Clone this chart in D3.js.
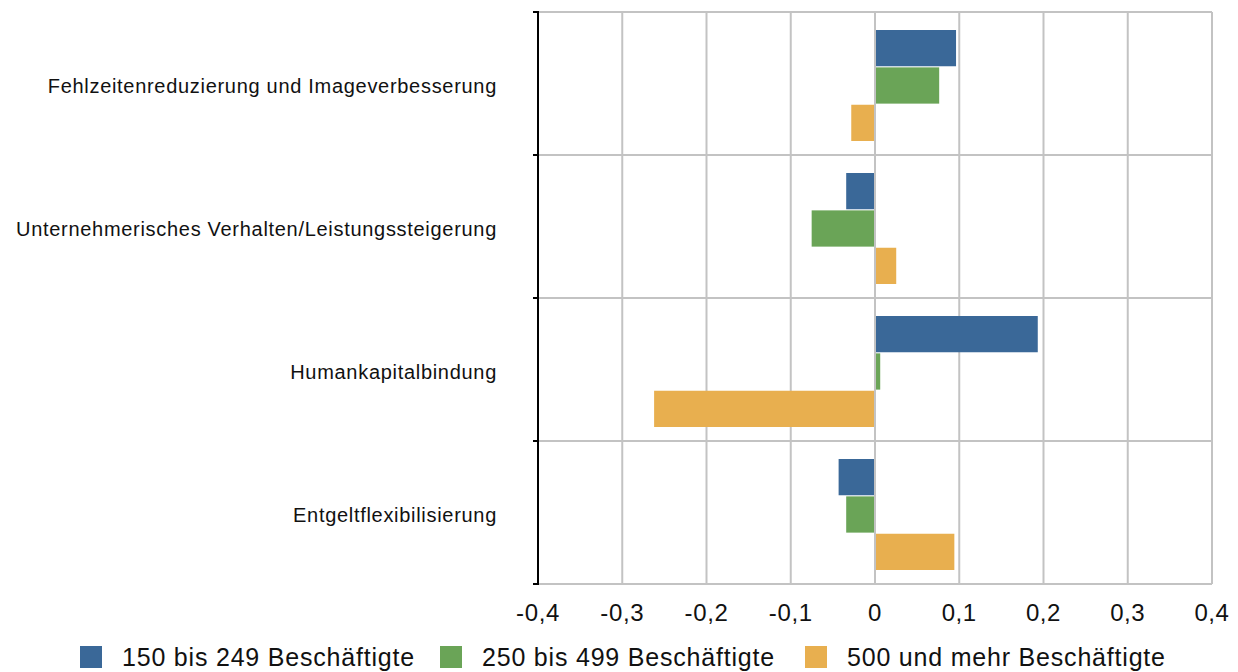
<!DOCTYPE html>
<html><head><meta charset="utf-8">
<script src="https://cdn.jsdelivr.net/npm/d3@7"></script>
<style>body{margin:0;background:#fff}svg{display:block}text{font-family:"Liberation Sans",Arial,Helvetica,sans-serif;fill:#111}</style>
</head><body><svg id="c" width="1238" height="672"></svg>
<script>
const categories = ["Fehlzeitenreduzierung und Imageverbesserung","Unternehmerisches Verhalten/Leistungssteigerung","Humankapitalbindung","Entgeltflexibilisierung"];
const seriesNames = ["150 bis 249 Beschäftigte","250 bis 499 Beschäftigte","500 und mehr Beschäftigte"];
const s150 = [0.095, -0.033, 0.192, -0.042];
const s250 = [0.075, -0.074, 0.005, -0.033];
const s500 = [-0.027, 0.024, -0.261, 0.093];
const tickValues = [-0.4,-0.3,-0.2,-0.1,0,0.1,0.2,0.3,0.4];
const tickLabels = ["-0,4","-0,3","-0,2","-0,1","0","0,1","0,2","0,3","0,4"];
const colors = ["#3a6898","#6aa457","#e8af4f"];
const series = [s150, s250, s500];

const svg = d3.select("#c");
const x = d3.scaleLinear().domain([-0.4,0.4]).range([538,1212]);
const y0 = d3.scaleBand().domain(categories).range([12,584]);
const y1 = d3.scaleBand().domain(seriesNames).range([18,129]).paddingInner(0.03);

// grid
const g = svg.append("g");
g.selectAll("line.v").data(tickValues.slice(1)).join("line")
 .attr("x1",d=>x(d)).attr("x2",d=>x(d)).attr("y1",12).attr("y2",584)
 .attr("stroke","#c3c3c3").attr("stroke-width",2);
g.selectAll("line.h").data(d3.range(5)).join("line")
 .attr("x1",538).attr("x2",1212)
 .attr("y1",i=>12+i*y0.step()).attr("y2",i=>12+i*y0.step())
 .attr("stroke","#c3c3c3").attr("stroke-width",2);

// bars
series.forEach((vals,si)=>{
  svg.append("g").selectAll("rect").data(vals).join("rect")
   .attr("x",d=>Math.min(x(0),x(d))+ (d>=0?1:-1))
   .attr("width",d=>Math.max(Math.abs(x(d)-x(0)),1.5))
   .attr("y",(d,i)=>y0(categories[i])+y1(seriesNames[si]))
   .attr("height",y1.bandwidth())
   .attr("fill",colors[si]);
});

// left axis
svg.append("line").attr("x1",538).attr("x2",538).attr("y1",11).attr("y2",585).attr("stroke","#000").attr("stroke-width",2);
svg.selectAll("line.tk").data(d3.range(5)).join("line")
 .attr("x1",533).attr("x2",538).attr("y1",i=>12+i*y0.step()).attr("y2",i=>12+i*y0.step())
 .attr("stroke","#000").attr("stroke-width",2);

// x tick labels
svg.selectAll("text.xt").data(tickValues).join("text")
 .attr("x",d=>x(d)).attr("y",621).attr("text-anchor","middle")
 .attr("font-size",24).attr("letter-spacing",0.6).text((d,i)=>tickLabels[i]);

// category labels
svg.selectAll("text.ct").data(categories).join("text")
 .attr("x",497).attr("y",d=>y0(d)+y0.bandwidth()/2+9).attr("text-anchor","end")
 .attr("font-size",20).attr("letter-spacing",0.7).text(d=>d);

// legend
const lx = [80,440,805];
seriesNames.forEach((n,i)=>{
  svg.append("rect").attr("x",lx[i]).attr("y",646).attr("width",22).attr("height",22).attr("fill",colors[i]);
  svg.append("text").attr("x",lx[i]+42).attr("y",666).attr("font-size",25).attr("letter-spacing",0.8).text(n);
});
</script></body></html>
